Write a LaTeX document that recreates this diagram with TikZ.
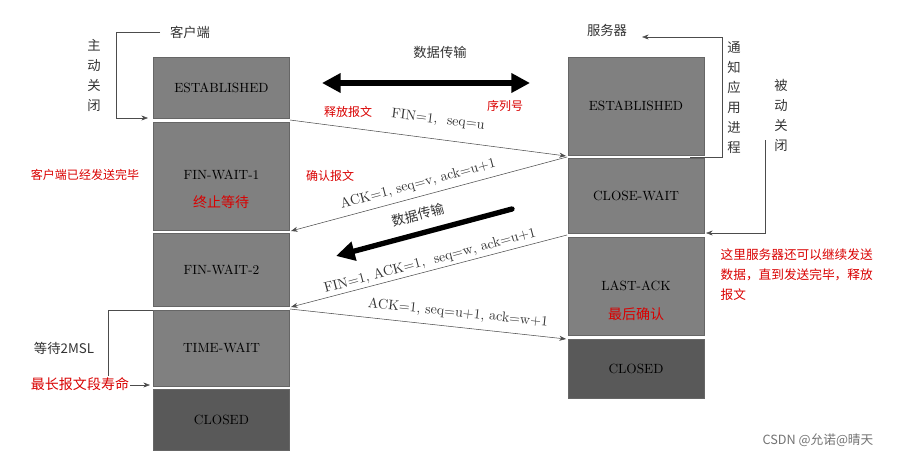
\documentclass[tikz,border=0pt]{standalone}
\usepackage{fontspec}
\newfontfamily\cjk{Noto Sans CJK SC}
\usetikzlibrary{arrows.meta}
\begin{document}
\begin{tikzpicture}[x=0.75pt,y=-0.75pt,
  st/.style={draw=black!60,fill=black!50,minimum width=102pt,inner sep=0pt,font=\fontsize{10}{12}\selectfont},
  cl/.style={st,fill=black!65},
  msg/.style={-{Stealth[length=5pt]},black!70,thin},
  lbl/.style={font=\fontsize{10.5}{12}\selectfont,text=black!80,inner sep=1pt},
  red/.style={text=red!85!black,font=\cjk\fontsize{9}{11}\selectfont},
  cn/.style={font=\cjk\fontsize{10}{12}\selectfont,text=black!80},
  big/.style={line width=4pt,-{Triangle[length=14pt,width=14pt]}}]
\useasboundingbox (0,0) rectangle (917,464);
% left
\node[st,minimum height=45.75pt] (le) at (221.5,87.5) {ESTABLISHED};
\node[st,minimum height=81pt] (lf1) at (221.5,176) {};
\node at (221.5,175) {\fontsize{10}{12}\selectfont FIN-WAIT-1};
\node[red,font=\cjk\fontsize{10.5}{12}\selectfont] (zz) at (221,202) {终止等待};
\node[st,minimum height=54.75pt] (lf2) at (221.5,269.5) {FIN-WAIT-2};
\node[st,minimum height=57pt] (lt) at (221.5,348) {TIME-WAIT};
\node[cl,minimum height=45.75pt] (lc) at (221.5,419.5) {CLOSED};
% right
\node[st,minimum height=73.5pt] (re) at (636,106) {ESTABLISHED};
\node[st,minimum height=56.25pt] (rcw) at (636,195.5) {CLOSE-WAIT};
\node[st,minimum height=73.5pt] (rla) at (636,286) {};
\node at (636,286) {\fontsize{10}{12}\selectfont LAST-ACK};
\node[red,font=\cjk\fontsize{10.5}{12}\selectfont] (zh) at (636,314) {最后确认};
\node[cl,minimum height=44.25pt] (rc) at (636,368.5) {CLOSED};
% coordinates
\coordinate (a1) at (290,120); \coordinate (a2) at (566,156);
\coordinate (b1) at (567,157); \coordinate (b2) at (291,231);
\coordinate (c1) at (567,235); \coordinate (c2) at (291,307);
\coordinate (d1) at (290,309); \coordinate (d2) at (566,339);
\draw[msg] (a1) -- (a2);
\draw[msg] (b1) -- (b2);
\draw[msg] (c1) -- (c2);
\draw[msg] (d1) -- (d2);
% big arrows
\coordinate (e1) at (322,83); \coordinate (e2) at (530,83);
\draw[line width=4pt,{Triangle[length=14pt,width=14pt]}-{Triangle[length=14pt,width=14pt]}] (e1) -- (e2);
\node[cn] (dt1) at (440,52) {数据传输};
\coordinate (f1) at (512,209); \coordinate (f2) at (336,256);
\draw[line width=4pt,line cap=round,-{Triangle[length=14pt,width=14pt]}] (f1) -- (f2);
\node[cn,rotate=15] (dt2) at (418,215) {数据传输};
% labels
\node[red] (sf) at (348,112) {释放报文};
\node[lbl,rotate=-7] (l1) at (438,120) {FIN=1,\ \ seq=u};
\node[red] (xl) at (505,106) {序列号};
\node[red] (qr) at (330,176) {确认报文};
\node[lbl,rotate=15] (l2) at (418,184) {ACK=1, seq=v, ack=u+1};
\node[lbl,rotate=15] (l3) at (430,261) {FIN=1,\ ACK=1,\ \ seq=w, ack=u+1};
\node[lbl,rotate=-6] (l4) at (458,313) {ACK=1, seq=u+1, ack=w+1};
% left annotations
\node[cn] (kh) at (190,32) {客户端};
\coordinate (k1) at (160,32); \coordinate (k2) at (116,32); \coordinate (k3) at (116,118); \coordinate (k4) at (148,118);
\draw[black!70,-{Stealth[length=5pt]}] (k1) -- (k2) -- (k3) -- (k4);
\node[cn,align=center,font=\cjk\fontsize{10}{15}\selectfont] (zd) at (94,75) {主\\动\\关\\闭};
\node[red] (wb) at (85,175) {客户端已经发送完毕};
\coordinate (m1) at (153,310); \coordinate (m2) at (108,310); \coordinate (m3) at (108,385); \coordinate (m4) at (150,385);
\draw[black!70,-{Stealth[length=5pt]}] (m1) -- (m2) -- (m3) -- (m4);
\node[cn,fill=white,inner sep=1pt] (dd) at (64,348) {等待2MSL};
\node[red,font=\cjk\fontsize{10.5}{12}\selectfont,fill=white,inner sep=1pt] (sm) at (80,384) {最长报文段寿命};
% right annotations
\node[cn] (fw) at (607,30) {服务器};
\coordinate (n1) at (690,157); \coordinate (n2) at (722,157); \coordinate (n3) at (722,37); \coordinate (n4) at (642,37);
\draw[black!70,-{Stealth[length=5pt]}] (n1) -- (n2) -- (n3) -- (n4);
\node[cn,align=center,font=\cjk\fontsize{10}{15}\selectfont] (tz) at (734,98) {通\\知\\应\\用\\进\\程};
\coordinate (p1) at (765,140); \coordinate (p2) at (765,233); \coordinate (p3) at (706,233);
\draw[black!70,-{Stealth[length=5pt]}] (p1) -- (p2) -- (p3);
\node[cn,align=center,font=\cjk\fontsize{10}{15}\selectfont] (bd) at (781,115) {被\\动\\关\\闭};
\node[red,align=left,anchor=north west,font=\cjk\fontsize{9.5}{15}\selectfont] (zl) at (716,244) {这里服务器还可以继续发送\\数据，直到发送完毕，释放\\报文};
\node[font=\cjk\fontsize{9.5}{11}\selectfont,text=black!55] (wm) at (818,440) {CSDN @允诺@晴天};
\end{tikzpicture}
\end{document}
